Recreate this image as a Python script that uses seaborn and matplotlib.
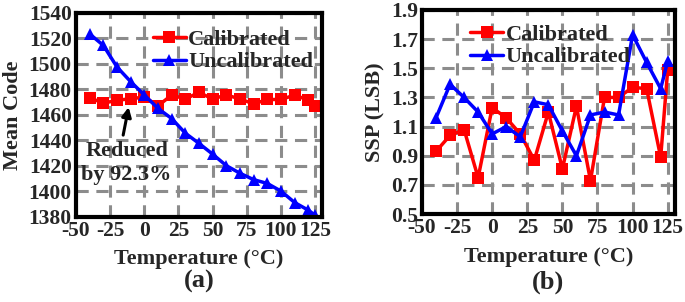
import pandas as pd
import seaborn as sns
import matplotlib.pyplot as plt

# datos
temps = [-40, -30, -20, -10, 0, 10, 20, 30, 40, 50, 60, 70, 80, 90, 100, 110, 120, 125]
mean_cal = [1473.5, 1469, 1471.5, 1472.5, 1474, 1467, 1475.5, 1472.5, 1477.5, 1472.5,
            1475.5, 1472.5, 1468.5, 1472, 1472, 1475.5, 1471.5, 1466.5]
mean_uncal = [1523.5, 1514.5, 1497.5, 1486, 1475.5, 1465, 1457, 1445.5, 1437.5, 1429,
              1420, 1414, 1409, 1406, 1400, 1391, 1385, 1381]
ssp_cal = [0.93, 1.04, 1.08, 0.75, 1.23, 1.16, 1.05, 0.87, 1.20, 0.81,
           1.24, 0.73, 1.30, 1.30, 1.37, 1.36, 0.89, 1.49]
ssp_uncal = [1.16, 1.39, 1.30, 1.20, 1.05, 1.10, 1.03, 1.27, 1.25, 1.07,
             0.90, 1.18, 1.20, 1.18, 1.73, 1.54, 1.36, 1.55]
series = ["Calibrated", "Uncalibrated"]
xticks = [-50, -25, 0, 25, 50, 75, 100, 125]

sns.set_style("white")
plt.rcParams['font.family'] = ['Liberation Serif', 'DejaVu Serif']
plt.rcParams['font.weight'] = 'bold'
plt.rcParams['axes.labelweight'] = 'bold'

palette = {"Calibrated": "#ff0000", "Uncalibrated": "#0000ff"}
markers = {"Calibrated": "s", "Uncalibrated": "^"}
FS = 15.5


def make_df(cal, uncal):
    d1 = pd.DataFrame({"T": temps, "v": cal, "serie": series[0]})
    d2 = pd.DataFrame({"T": temps, "v": uncal, "serie": series[1]})
    return pd.concat([d1, d2], ignore_index=True)


def draw(ax, df, ylim, yticks, ylabel, tag, tag_y, leg_anchor):
    sns.lineplot(data=df, x="T", y="v", hue="serie", style="serie",
                 palette=palette, markers=markers, dashes=False,
                 linewidth=2.5, markersize=8.5, markeredgewidth=0, ax=ax)
    ax.set_xlim(-50, 130)
    ax.set_ylim(*ylim)
    ax.set_xticks(xticks)
    ax.set_xticklabels([str(t) for t in xticks])
    ax.set_yticks(yticks)
    ax.tick_params(axis='both', labelsize=FS, length=0, pad=3)
    ax.grid(True, color='#8c8c8c', linestyle=(0, (4, 2.5)), linewidth=2.2)
    for s in ax.spines.values():
        s.set_color('black')
        s.set_linewidth(3)
        s.set_zorder(5)
    ax.set_xlabel("Temperature (\u00b0C)", fontsize=FS + 0.5, labelpad=6)
    ax.set_ylabel(ylabel, fontsize=FS + 0.5, labelpad=4)
    ax.legend(loc='upper right', bbox_to_anchor=leg_anchor, frameon=False,
              fontsize=FS + 0.5, handlelength=1.5, handletextpad=0.1,
              labelspacing=0.1, borderaxespad=0)
    ax.text(0.5, tag_y, tag, transform=ax.transAxes, ha='center', va='center',
            fontsize=19, fontweight='bold')


fig = plt.figure(figsize=(6.85, 3.02), dpi=100)
ax1 = fig.add_axes([0.111, 0.283, 0.359, 0.674])
ax2 = fig.add_axes([0.616, 0.291, 0.369, 0.676])

draw(ax1, make_df(mean_cal, mean_uncal), (1380, 1540), list(range(1380, 1541, 20)),
     "Mean Code", "(a)", -0.32, (1.0, 0.965))
draw(ax2, make_df(ssp_cal, ssp_uncal), (0.5, 1.9), [0.5, 0.7, 0.9, 1.1, 1.3, 1.5, 1.7, 1.9],
     "SSP (LSB)", "(b)", -0.333, (0.86, 0.975))
ax2.set_yticklabels(["0.5", "0.7", "0.9", "1.1", "1.3", "1.5", "1.7", "1.9"])

# anotacion con flecha
ax1.text(-13, 1422, "Reduced\nby 92.3%", ha='center', va='center',
         fontsize=FS + 0.5, fontweight='bold', linespacing=1.25)
ax1.annotate("", xy=(-11.5, 1466), xytext=(-15.5, 1444),
             arrowprops=dict(arrowstyle='-|>', color='black', lw=2.2,
                             mutation_scale=14, shrinkA=0, shrinkB=0))

fig.savefig("out.png", dpi=100)
